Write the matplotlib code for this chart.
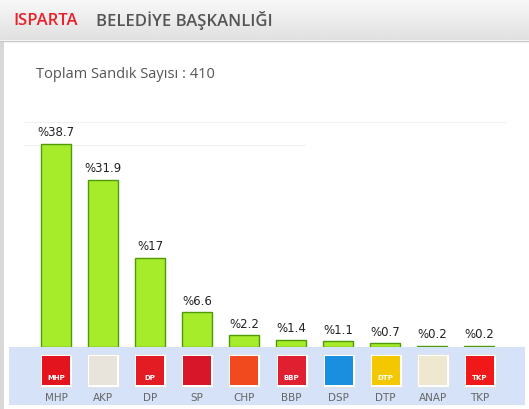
import matplotlib
matplotlib.use("Agg")
import matplotlib.pyplot as plt
from matplotlib.patches import Rectangle
import numpy as np

parties = ["MHP", "AKP", "DP", "SP", "CHP", "BBP", "DSP", "DTP", "ANAP", "TKP"]
values = [38.7, 31.9, 17, 6.6, 2.2, 1.4, 1.1, 0.7, 0.2, 0.2]
labels = ["%38.7", "%31.9", "%17", "%6.6", "%2.2", "%1.4", "%1.1", "%0.7", "%0.2", "%0.2"]
logo_colors = ["#e3141e", "#e8e4dc", "#e31b23", "#d8162a", "#f04a1e", "#e02030", "#1a8fe0", "#f4c800", "#efe8d0", "#f01818"]
logo_text = ["MHP", "", "DP", "", "", "BBP", "", "DTP", "", "TKP"]

W, H = 529, 409
fig = plt.figure(figsize=(W/100, H/100), dpi=100)
fig.patch.set_facecolor("white")

def fx(px): return px / W
def fy(py): return 1 - py / H

bg = fig.add_axes([0, 0, 1, 1])
bg.set_xlim(0, W); bg.set_ylim(H, 0); bg.axis("off")
grad = np.linspace(0.97, 0.88, 50).reshape(-1, 1)
bg.imshow(grad, extent=[0, W, 40, 0], cmap="gray", vmin=0, vmax=1, aspect="auto")
bg.plot([0, W], [40.5, 40.5], color="#c8c8c8", lw=1)
bg.add_patch(Rectangle((0, 41), 4, H, color="#d8d8d8", lw=0))
bg.add_patch(Rectangle((9, 347), 516, 58, color="#d6e2f8", lw=0))
bg.text(13, 21, "ISPARTA", color="#e8202a", fontsize=12, va="center", family="Open Sans", fontweight="semibold")
bg.text(96, 21, "BELEDİYE BAŞKANLIĞI", color="#555555", fontsize=12, va="center", family="Open Sans", fontweight="semibold")
bg.text(36, 75, "Toplam Sandık Sayısı : 410", color="#555555", fontsize=10.5, va="center", family="Open Sans")
bg.plot([24, 505], [122, 122], color="#f0f0f0", lw=0.8)
bg.plot([24, 305], [145, 145], color="#f0f0f0", lw=0.8)

ax = fig.add_axes([fx(9), fy(347), fx(516), (347 - 120) / H])
ax.set_xlim(-1, 9.98)
ax.set_ylim(0, (347 - 120) / 5.25)
ax.axis("off")
x = np.arange(len(parties))
ax.bar(x, values, width=0.64, color="#a6ec2a", edgecolor="#4f9a0a", linewidth=1.0)
for xi, v, lab in zip(x, values, labels):
    ax.text(xi, v + 0.9, lab, ha="center", va="bottom", fontsize=8.5, color="#222222")

centers = [56 + i * 47.1 for i in range(len(parties))]
for c, col, t, name in zip(centers, logo_colors, logo_text, parties):
    bg.add_patch(Rectangle((c - 16, 354), 32, 33, facecolor="white", edgecolor="#e0e0e0", lw=0.6))
    bg.add_patch(Rectangle((c - 14, 356), 28, 29, color=col, lw=0))
    if t:
        bg.text(c, 378, t, ha="center", va="center", fontsize=5, color="white", fontweight="bold")
    bg.text(c, 398, name, ha="center", va="center", fontsize=7.5, color="#666666")

fig.savefig("out.png", dpi=100)
